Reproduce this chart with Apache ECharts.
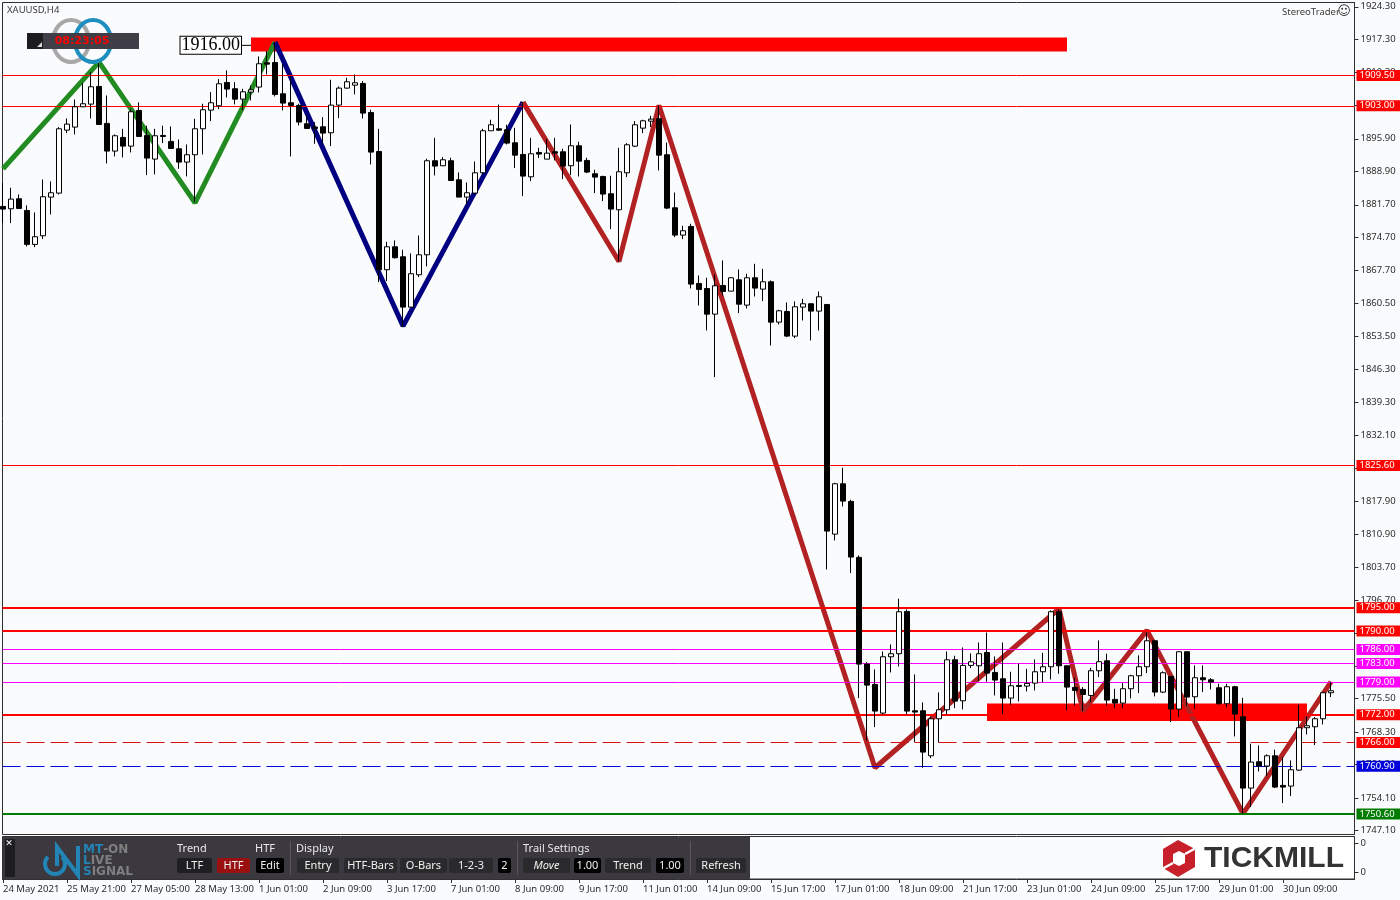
<!DOCTYPE html>
<html><head><meta charset="utf-8">
<script src="https://cdn.jsdelivr.net/npm/echarts@6/dist/echarts.min.js"></script>
<style>html,body{margin:0;padding:0;background:#fafbfd}#c{width:1400px;height:900px}</style>
</head><body><div id="c"></div>
<script>
const opens=[1881.34,1880.84,1882.99,1880.48,1873.17,1875.03,1883.35,1884.21,1897.76,1898.41,1902.78,1903.36,1907.16,1899.20,1893.25,1896.19,1894.32,1902.00,1896.62,1891.53,
1896.62,1895.33,1893.75,1890.88,1892.46,1898.05,1902.07,1903.00,1908.02,1906.66,1904.43,1905.94,1907.02,1912.25,1912.32,1905.58,1903.65,1903.07,1899.13,1898.41,
1898.48,1897.19,1903.14,1906.80,1907.44,1907.80,1901.56,1893.17,1867.72,1872.66,1870.51,1859.68,1866.64,1870.94,1891.17,1890.09,1891.17,1887.08,1883.35,1884.21,
1888.58,1897.62,1898.05,1897.83,1895.04,1892.53,1887.72,1892.96,1891.52,1893.10,1893.10,1890.09,1894.39,1891.24,1888.37,1887.79,1884.07,1880.62,1888.58,1894.32,
1898.19,1899.70,1900.20,1892.46,1881.05,1875.17,1877.04,1864.77,1863.69,1858.17,1864.34,1863.12,1865.56,1860.11,1865.99,1863.55,1865.13,1856.45,1858.75,1853.44,
1859.68,1860.40,1858.82,1860.25,1810.84,1821.67,1817.87,1805.83,1782.87,1778.50,1772.33,1784.45,1785.10,1794.20,1772.83,1772.83,1763.15,1771.11,1773.05,1783.80,
1774.98,1782.59,1782.51,1785.38,1781.08,1779.72,1775.56,1778.28,1778.14,1778.78,1781.22,1782.30,1794.13,1782.51,1777.85,1777.42,1776.13,1781.44,1783.59,1775.27,
1774.48,1777.57,1780.36,1782.30,1787.89,1776.85,1780.22,1773.19,1785.53,1775.85,1779.93,1779.50,1777.78,1774.34,1778.00,1771.54,1756.20,1761.86,1760.93,1763.15,
1756.77,1756.63,1760.07,1769.18,1769.39,1771.11,1776.71];
const closes=[1880.77,1882.92,1880.91,1873.17,1874.82,1883.42,1884.28,1898.05,1899.06,1902.78,1903.43,1907.09,1898.98,1893.25,1896.55,1894.32,1901.71,1896.40,1891.74,1896.55,
1896.40,1893.82,1890.88,1892.46,1898.05,1902.14,1903.65,1907.73,1906.59,1904.43,1906.01,1906.44,1912.04,1911.96,1905.44,1903.57,1903.07,1899.49,1898.12,1898.12,
1897.12,1903.14,1906.80,1908.16,1907.95,1901.42,1893.03,1867.72,1872.66,1870.30,1859.68,1866.86,1870.94,1891.17,1890.02,1891.38,1886.93,1883.35,1884.28,1888.58,
1897.62,1898.91,1897.76,1894.97,1892.38,1887.87,1892.67,1892.60,1892.81,1892.81,1890.02,1894.39,1891.09,1888.73,1887.65,1884.00,1880.77,1888.80,1894.61,1898.91,
1899.77,1900.13,1892.38,1880.98,1875.17,1876.11,1864.63,1863.48,1858.17,1864.27,1863.05,1865.99,1860.32,1865.99,1863.77,1865.13,1856.45,1858.89,1853.44,1859.75,
1860.40,1858.82,1861.90,1811.49,1821.67,1817.94,1805.90,1782.87,1778.35,1772.76,1784.45,1785.10,1794.13,1772.76,1772.55,1763.94,1771.11,1773.05,1783.80,1774.91,
1782.59,1783.37,1785.10,1780.94,1779.43,1775.56,1778.21,1778.07,1778.71,1781.22,1782.30,1794.13,1782.51,1777.92,1777.21,1776.35,1781.44,1783.38,1775.13,1774.48,
1777.57,1780.36,1782.30,1787.89,1776.85,1781.01,1773.19,1785.53,1775.78,1779.93,1779.50,1779.00,1774.34,1778.00,1772.12,1756.20,1761.79,1760.93,1763.15,1756.41,
1756.41,1760.14,1769.18,1769.61,1771.11,1776.71,1777.14];
const lows=[1877.76,1877.76,1880.91,1872.74,1872.59,1874.32,1879.62,1883.92,1897.12,1896.83,1902.71,1900.27,1898.98,1890.59,1892.10,1891.88,1892.96,1896.40,1888.08,1888.23,
1894.97,1893.68,1889.45,1887.80,1882.28,1892.53,1899.70,1902.28,1904.79,1903.29,1902.00,1904.15,1905.87,1909.74,1905.01,1902.00,1892.10,1898.77,1898.05,1894.82,
1894.97,1894.32,1900.35,1906.66,1905.44,1900.27,1890.38,1865.06,1865.28,1870.15,1855.38,1859.68,1866.14,1868.43,1888.01,1890.02,1886.79,1883.35,1881.91,1884.07,
1888.37,1897.55,1897.62,1894.68,1889.59,1883.56,1886.79,1891.74,1891.52,1891.24,1887.22,1888.08,1887.79,1888.51,1884.21,1882.49,1876.46,1869.51,1887.65,1894.11,
1897.12,1898.41,1889.09,1880.77,1874.74,1874.31,1863.70,1860.04,1854.66,1844.62,1862.19,1863.12,1858.39,1859.39,1861.97,1860.97,1851.43,1855.95,1853.23,1853.01,
1856.81,1852.51,1854.66,1803.24,1809.48,1816.80,1802.46,1775.56,1766.45,1769.32,1772.04,1781.08,1782.37,1772.04,1766.09,1760.57,1762.65,1766.02,1772.04,1773.41,
1773.12,1782.01,1779.21,1779.07,1776.13,1772.12,1774.12,1774.84,1776.99,1777.21,1778.93,1779.57,1780.79,1772.90,1773.98,1772.76,1774.70,1780.08,1773.98,1773.34,
1773.34,1775.49,1776.64,1780.94,1775.92,1776.64,1770.40,1771.47,1773.84,1773.19,1776.85,1777.42,1774.13,1773.62,1767.31,1750.68,1752.11,1759.78,1758.78,1756.20,
1752.97,1754.48,1759.86,1767.74,1765.45,1769.89,1775.78];
const highs=[1886.36,1885.36,1883.92,1881.56,1880.05,1887.15,1886.72,1898.41,1900.27,1904.36,1907.88,1910.24,1912.32,1905.22,1896.83,1898.05,1902.28,1903.72,1898.70,1898.05,
1898.70,1898.55,1895.76,1894.68,1900.20,1903.43,1905.94,1908.74,1910.60,1908.09,1906.66,1907.37,1913.61,1914.76,1916.70,1912.04,1909.45,1903.43,1900.92,1899.49,
1900.56,1908.59,1907.16,1909.02,1909.74,1908.30,1902.14,1898.05,1873.74,1874.03,1872.02,1871.23,1875.10,1891.60,1896.11,1891.95,1891.81,1888.66,1886.50,1891.02,
1898.05,1899.99,1903.28,1898.91,1898.26,1903.79,1896.11,1893.96,1895.83,1896.11,1893.75,1898.98,1895.25,1891.81,1889.23,1887.94,1887.94,1893.96,1894.97,1899.70,
1899.99,1900.85,1903.07,1895.11,1884.35,1877.18,1877.61,1866.49,1865.99,1866.71,1869.72,1866.13,1867.78,1866.85,1869.00,1867.93,1865.42,1859.11,1860.68,1860.90,
1861.47,1860.54,1863.05,1860.25,1821.89,1825.12,1818.23,1806.26,1783.30,1781.72,1785.60,1787.10,1796.93,1794.63,1780.65,1774.63,1771.61,1776.78,1785.60,1784.66,
1786.46,1785.17,1787.53,1789.68,1784.52,1787.53,1781.22,1782.94,1781.87,1783.88,1785.31,1794.42,1794.56,1782.59,1779.93,1777.92,1782.08,1787.97,1785.10,1777.57,
1778.79,1780.58,1784.74,1789.69,1788.11,1781.30,1780.29,1785.60,1785.60,1782.59,1782.59,1779.86,1778.64,1778.64,1778.21,1775.63,1765.74,1765.38,1763.44,1764.45,
1762.87,1762.15,1774.13,1771.62,1771.47,1776.85,1779.07];

const greenZig=[[0,1889.45],[12,1912.39],[24,1882.13],[34,1916.70]];
const navyZig=[[34,1916.70],[50,1855.60],[65,1903.79]];
const brownZig=[[65,1903.79],[77,1869.51],[82,1903.07],[109,1760.57],[132,1794.78],[135,1772.76],[143,1790.12],[155,1750.68],[166,1779.07]];

const levels=[1909.5,1903,1825.6,1795,1790,1786,1783,1779,1772,1766,1760.9,1750.6];
const levelKinds=['thin','thin','thin','thick','thick','pink','pink','pink','thick','dashR','dashB','green'];
const zoneStart=[31,123], zoneEnd=[133,163], zoneTop=[1917.69,1774.41], zoneBottom=[1914.68,1770.61];
const anchorPrice=1916.00, anchorBar=31;

const priceTicks=[1924.3,1917.3,1910.3,1903.1,1895.9,1888.9,1881.7,1874.7,1867.7,1860.5,1853.5,1846.3,1839.3,1832.1,1825.1,1817.9,1810.9,1803.7,1796.7,1789.5,1782.5,1775.5,1768.3,1761.3,1754.1,1747.1];
const timeLabels=['24 May 2021','25 May 21:00','27 May 05:00','28 May 13:00','1 Jun 01:00','2 Jun 09:00','3 Jun 17:00','7 Jun 01:00','8 Jun 09:00','9 Jun 17:00','11 Jun 01:00','14 Jun 09:00','15 Jun 17:00','17 Jun 01:00','18 Jun 09:00','21 Jun 17:00','23 Jun 01:00','24 Jun 09:00','25 Jun 17:00','29 Jun 01:00','30 Jun 09:00'];
const timeTickBars=timeLabels.map((_,k)=>k*8);

const FONT='"Noto Sans"', TXT='#2b2b2b', FRAME='#303030';
const kindStyle={
 thin:{color:'#ff0000',width:1,type:'solid'},
 thick:{color:'#ff0000',width:2,type:'solid'},
 pink:{color:'#ff00ff',width:1,type:'solid'},
 dashR:{color:'#d81010',width:1,type:[18,6]},
 dashB:{color:'#0000dd',width:1,type:[18,6]},
 green:{color:'#007c00',width:2,type:'solid'}
};
const tagColor={thin:'#ff0000',thick:'#ff0000',pink:'#ff00ff',dashR:'#ff0000',dashB:'#0000dd',green:'#007c00'};

const candles=opens.map((o,i)=>[i,o,closes[i],lows[i],highs[i]]);

function zig(data,color){return {type:'line',xAxisIndex:0,yAxisIndex:0,data:data,symbol:'none',z:4,silent:true,animation:false,lineStyle:{color:color,width:5,join:'bevel'}};}

function txt(t,x,y,fill,font,align){return {type:'text',z:50,style:{text:t,x:x,y:y,fill:fill,font:font,textAlign:align||'left',textVerticalAlign:'middle'}};}
function box(x,y,w,h,fill,rad){return {type:'rect',z:49,shape:{x:x,y:y,width:w,height:h,r:rad||0},style:{fill:fill}};}
const PF='11px "Noto Sans"';
const btns=[[177,35,'LTF','#1f1f21'],[217,33,'HTF','#9a0f0f'],[256,28,'Edit','#000'],[297,42,'Entry','#2a2a2c'],[344,53,'HTF-Bars','#2a2a2c'],[400,47,'O-Bars','#2a2a2c'],[449,44,'1-2-3','#2a2a2c'],[498,13,'2','#000'],[523,47,'Move','#2a2a2c'],[574,27,'1.00','#000'],[605,46,'Trend','#2a2a2c'],[656,28,'1.00','#000'],[696,50,'Refresh','#2a2a2c']];
const graphics=[
 txt('XAUUSD,H4',7,10,'#3a3a3a','9.5px "Noto Sans"'),
 {type:'ellipse',z:40,shape:{cx:71,cy:41,rx:18,ry:21},style:{fill:'none',stroke:'#a8a8a8',lineWidth:4}},
 {type:'ellipse',z:41,shape:{cx:93,cy:41,rx:18,ry:21},style:{fill:'none',stroke:'#1d8fbe',lineWidth:4}},
 box(27,33,112,16,'#403e46'),
 box(27,33,16,16,'#1c1c1e'),
 {type:'polygon',z:50,shape:{points:[[37,47],[42,47],[42,42]]},style:{fill:'#d8d8d8'}},
 txt('08:23:05',82,41.5,'#ff0000','bold 11px "DejaVu Sans"','center'),
 txt('StereoTrader',1282,12,'#3a3a3a','9.5px "Noto Sans"'),
 txt('\u263A',1344,12,'#333','13px "DejaVu Sans"','center'),
 box(3,837,747,42,'#3b383f'),
 box(5,839,10,38,'#1e1e20'),
 txt('\u2715',9,844,'#ffffff','bold 9px "DejaVu Sans"','center'),
 {type:'arc',z:50,shape:{cx:55,cy:864,r:10,startAngle:-Math.PI*0.25,endAngle:-Math.PI*0.75,clockwise:true},style:{fill:'none',stroke:'#2285b5',lineWidth:4}},
 {type:'polyline',z:50,shape:{points:[[57,866],[57,847],[78,875],[78,846]]},style:{fill:'none',stroke:'#2285b5',lineWidth:4}},
 {type:'text',z:50,style:{x:83,y:850,textVerticalAlign:'middle',text:'{a|MT}{b|-ON}',rich:{a:{fill:'#2285b5',font:'bold 12px "DejaVu Sans"'},b:{fill:'#7f7f80',font:'bold 12px "DejaVu Sans"'}}}},
 {type:'text',z:50,style:{x:83,y:861,textVerticalAlign:'middle',text:'{a|L}{b|IVE}',rich:{a:{fill:'#2285b5',font:'bold 12px "DejaVu Sans"'},b:{fill:'#7f7f80',font:'bold 12px "DejaVu Sans"'}}}},
 {type:'text',z:50,style:{x:83,y:872,textVerticalAlign:'middle',text:'{a|S}{b|IGNAL}',rich:{a:{fill:'#2285b5',font:'bold 12px "DejaVu Sans"'},b:{fill:'#7f7f80',font:'bold 12px "DejaVu Sans"'}}}},
 txt('Trend',177,849,'#e8e8e8',PF),
 txt('HTF',255,849,'#e8e8e8',PF),
 txt('Display',296,849,'#e8e8e8',PF),
 txt('Trail Settings',523,849,'#e8e8e8',PF),
 box(290,841,1,34,'#5a585e'),box(517,841,1,34,'#5a585e'),box(690,841,1,34,'#5a585e'),
 box(1163,837,190,41,'#ffffff'),
 {type:'polygon',z:50,shape:{points:[[1178,840],[1195,849],[1195,867],[1178,877],[1163,868],[1163,849]]},style:{fill:'#c8202a'}},
 {type:'polygon',z:51,shape:{points:[[1179,851],[1185,854],[1185,863],[1179,866],[1173,863],[1173,854]]},style:{fill:'#ffffff'}},
 {type:'line',z:51,shape:{x1:1185,y1:854,x2:1196,y2:848},style:{stroke:'#fff',lineWidth:2.5}},
 {type:'line',z:51,shape:{x1:1173,y1:863,x2:1162,y2:869},style:{stroke:'#fff',lineWidth:2.5}},
 txt('TICKMILL',1204,859,'#333333','bold 30px "Liberation Sans"')
];
btns.forEach(b=>{graphics.push(box(b[0],858,b[1],15,b[3],2));graphics.push(txt(b[2],b[0]+b[1]/2,865.5,'#f0f0f0',b[2]==='Move'?'italic 11px "Noto Sans"':PF,'center'));});

const option={
 animation:false,
 backgroundColor:'#fafbfd',
 graphic:{elements:graphics},
 grid:[
  {left:2.5,top:2.5,width:1352,height:832,show:true,borderColor:FRAME,borderWidth:1,backgroundColor:'transparent'},
  {left:2.5,top:836.5,width:1352,height:42.5,show:true,borderColor:FRAME,borderWidth:1,backgroundColor:'transparent'}
 ],
 xAxis:[
  {type:'value',gridIndex:0,min:-0.0625,max:168.9375,show:false,splitLine:{show:false}},
  {type:'value',gridIndex:1,min:-0.0625,max:168.9375,position:'bottom',splitLine:{show:false},
   axisLine:{show:true,onZero:false,lineStyle:{color:FRAME}},
   axisTick:{show:true,length:4,inside:false,customValues:timeTickBars,lineStyle:{color:FRAME}},
   axisLabel:{show:true,align:'left',margin:5,fontSize:9.5,fontFamily:FONT,color:TXT,customValues:timeTickBars,hideOverlap:false,
    formatter:v=>timeLabels[Math.round(v/8)]}}
 ],
 yAxis:[
  {type:'value',gridIndex:0,position:'right',min:1746.21,max:1925.22,scale:true,splitLine:{show:false},
   axisLine:{show:true,onZero:false,lineStyle:{color:FRAME}},
   axisTick:{show:true,length:4,inside:false,customValues:priceTicks,lineStyle:{color:FRAME}},
   axisLabel:{show:true,margin:6,padding:[2,0,0,0],fontSize:9.5,fontFamily:FONT,color:TXT,customValues:priceTicks,hideOverlap:false,formatter:v=>v.toFixed(2)}},
  {type:'value',gridIndex:1,position:'right',min:0,max:1,splitLine:{show:false},
   axisLine:{show:true,onZero:false,lineStyle:{color:FRAME}},
   axisTick:{show:true,length:4,inside:false,customValues:[0.16,0.84],lineStyle:{color:FRAME}},
   axisLabel:{show:true,margin:6,fontSize:9.5,fontFamily:FONT,color:TXT,customValues:[0.16,0.84],hideOverlap:false,formatter:()=>'0'}}
 ],
 series:[
  {type:'line',xAxisIndex:0,yAxisIndex:0,data:[],z:2,silent:true,
   markArea:{silent:true,itemStyle:{color:'#ff0000',opacity:1,borderWidth:0},label:{show:false},
    data:zoneStart.map((s,k)=>[{xAxis:s,yAxis:zoneTop[k]},{xAxis:zoneEnd[k],yAxis:zoneBottom[k]}])},
   markPoint:{silent:true,data:[{coord:[anchorBar,anchorPrice],symbol:'rect',symbolSize:[10,1],symbolOffset:[-5,0],itemStyle:{color:'#000'},
     label:{show:true,position:'left',distance:0,formatter:anchorPrice.toFixed(2),color:'#000',fontFamily:'"Liberation Serif"',fontSize:18,lineHeight:17,backgroundColor:'#fff',borderColor:'#000',borderWidth:1,padding:[0,1,0,1]}}]}},
  {type:'line',xAxisIndex:0,yAxisIndex:0,data:[],z:3,silent:true,
   markLine:{silent:true,symbol:'none',animation:false,precision:2,
    data:levels.map((v,k)=>{const s=kindStyle[levelKinds[k]];return {yAxis:v,lineStyle:{color:s.color,width:s.width,type:s.type},
      label:{show:true,position:'end',distance:2,formatter:v.toFixed(2),color:'#fff',backgroundColor:tagColor[levelKinds[k]],fontFamily:FONT,fontSize:9.5,lineHeight:11,width:41,align:'left',padding:[0,0,0,3]}};})}},
  zig(greenZig,'#228b22'),
  zig(navyZig,'#000080'),
  zig(brownZig,'#b22222'),
  {type:'candlestick',xAxisIndex:0,yAxisIndex:0,z:5,silent:true,barWidth:5,data:candles,
   itemStyle:{color:'#ffffff',color0:'#000000',borderColor:'#000000',borderColor0:'#000000',borderWidth:1}}
 ]
};
echarts.init(document.getElementById('c'),null,{renderer:'canvas'}).setOption(option);
</script></body></html>
